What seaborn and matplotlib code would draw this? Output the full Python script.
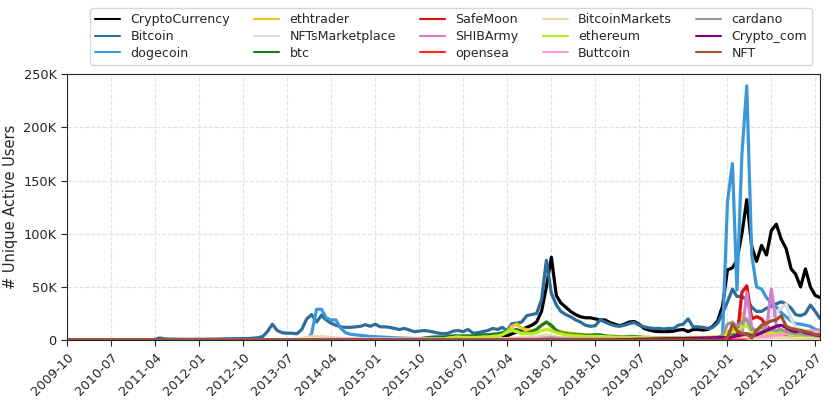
import pandas as pd
import seaborn as sns
import matplotlib.pyplot as plt
from matplotlib.ticker import FuncFormatter

# monthly unique active users (thousands), from the month each subreddit shows up
months = pd.period_range('2009-10', '2022-08', freq='M').to_timestamp()

cryptocurrency_start = '2013-12'
cryptocurrency = [0.3, 0.5, 0.6, 0.6, 0.5, 0.5, 0.5, 0.4, 0.4, 0.4,
                  0.4, 0.4, 0.4, 0.5, 0.5, 0.5, 0.5, 0.5, 0.5, 0.6,
                  0.6, 0.6, 0.7, 0.7, 0.8, 0.9, 1.0, 1.0, 1.1, 1.2,
                  1.3, 1.4, 1.5, 1.6, 1.8, 2.0, 2.2, 2.5, 2.8, 3.2,
                  4, 6, 8, 10, 12, 14, 17, 27, 50, 78,
                  42, 35, 31, 27, 24, 22, 21, 21, 20, 19,
                  19, 16.5, 15, 13.5, 15, 17, 17.5, 15, 11, 9.5,
                  8.5, 8, 8, 8, 8.5, 9.5, 10, 8, 10, 10,
                  9.5, 10, 13, 18, 32, 66, 68, 75, 100, 132,
                  88, 74, 89, 80, 103, 109, 95, 86, 67, 62,
                  50, 67, 50, 42, 40]

bitcoin_start = '2011-04'
bitcoin = [0.8, 2.0, 1.2, 1.0, 0.9, 0.9, 0.8, 0.8, 0.8, 0.9,
           0.9, 0.9, 1.0, 1.0, 1.1, 1.2, 1.3, 1.3, 1.4, 1.5,
           1.8, 2.2, 3.5, 8, 15, 9, 7, 6.5, 6.5, 6,
           10, 20, 24, 17, 23.5, 19, 16, 14, 12.5, 12,
           12, 12.5, 13, 14.5, 13, 15, 12.5, 12.5, 12, 11,
           10, 11, 9.5, 8, 8.5, 9, 8.5, 7.5, 6.5, 6,
           6.5, 8.5, 9, 8, 10, 6.5, 7, 8, 9, 11,
           10, 12, 9, 15.5, 16, 17, 23, 24, 25, 38,
           75, 44, 33, 27, 24, 22, 19, 17, 14, 13,
           13.5, 19, 17, 15, 13.5, 13, 14, 15.5, 16.5, 14,
           12.5, 11.5, 11, 11, 10.5, 11, 11, 14, 15, 20,
           12.5, 12.5, 12, 11, 12, 16, 25, 36, 48, 41,
           41, 38, 31, 27, 27, 30, 32, 34, 36, 34,
           30, 24, 23, 25, 33, 27, 20]

dogecoin_start = '2013-11'
dogecoin = [0.5, 6, 29, 29, 21, 19, 19, 11, 7, 5.5,
            5, 4.5, 4, 3.5, 3.2, 3, 2.8, 2.5, 2.2, 2,
            1.8, 1.6, 1.5, 1.4, 1.3, 1.2, 1.2, 1.1, 1.1, 1.0,
            1.0, 1.0, 1.0, 1.0, 1.0, 1.0, 1.0, 1.0, 1.0, 1.0,
            1.1, 1.2, 1.3, 1.5, 1.6, 1.8, 2, 2.2, 2.8, 3.5,
            3.5, 2.5, 2, 1.8, 1.6, 1.5, 1.4, 1.3, 1.3, 1.2,
            1.2, 1.2, 1.1, 1.1, 1.1, 1.2, 1.3, 1.2, 1.1, 1.0,
            1.0, 1.0, 1.0, 1.0, 1.0, 1.0, 1.1, 1.2, 1.3, 1.4,
            1.5, 1.8, 2.0, 2.2, 2.5, 3, 130, 166, 47, 175,
            239, 80, 50, 48, 40, 35, 31, 26, 22, 18,
            15.5, 15, 14, 13, 10, 9]

ethtrader_start = '2016-06'
ethtrader = [1, 1.5, 2, 2, 2.5, 2.5, 3, 3.5, 4, 5,
             8, 13, 15, 11, 10, 9, 10, 14, 17, 12,
             9, 8, 7, 6.5, 6, 5.5, 5, 5, 4.5, 4.5,
             4, 3.5, 3.5, 3, 3, 3, 3, 2.8, 2.6, 2.5,
             2.4, 2.3, 2.2, 2.2, 2.2, 2.3, 2.4, 2.4, 2.5, 2.5,
             2.5, 2.6, 2.8, 3, 3.5, 8, 10, 12, 25, 18,
             9, 7, 8, 6, 6, 5, 5, 4.5, 4, 4,
             3.5, 3.5, 3, 3, 3]

nfts_marketplace_start = '2021-04'
nfts_marketplace = [0.5, 1, 1.5, 2, 8, 18, 22, 26, 30, 34,
                    20, 12, 10, 9, 8, 7, 6]

btc_start = '2015-10'
btc = [1, 2, 2.5, 3, 3, 3, 3.5, 4, 4, 4,
       4, 4, 4.5, 5, 5, 5.5, 6, 7, 8, 9,
       10, 7, 6.5, 8, 10, 14, 17, 14, 9, 7,
       6, 5.5, 5, 5, 4.5, 4.5, 5, 5, 4, 3.5,
       3.5, 3, 3, 3.5, 3.5, 3, 2.5, 2.5, 2.2, 2.2,
       2, 2, 2, 2.2, 2.4, 2.2, 2, 2, 2, 2,
       2.2, 2.5, 3, 4, 5, 5, 6, 6, 4, 3.5,
       3.5, 3, 3, 3, 3, 2.8, 2.5, 2.5, 2.3, 2.2,
       2.2, 2, 2]

safemoon_start = '2021-03'
safemoon = [1, 45, 51, 20, 22, 20, 13, 10, 8, 6,
            5, 4, 4, 3.5, 3, 3, 2.5, 2.5]

shibarmy_start = '2021-04'
shibarmy = [4, 45, 12, 8, 6, 10, 48, 14, 9, 8,
            7, 6, 6, 5, 5, 4, 4]

opensea_start = '2021-02'
opensea = [0.5, 1, 1.5, 2, 3, 5, 8, 9, 7, 7,
           8, 9, 7, 5, 4, 3.5, 3, 2.5, 2]

bitcoinmarkets_start = '2013-08'
bitcoinmarkets = [0.5, 1, 1.5, 2.5, 3.5, 3, 3.5, 3, 2.5, 2,
                  1.5, 1.5, 1.4, 1.3, 1.3, 1.2, 1.2, 1.3, 1.2, 1.1,
                  1.1, 1.0, 1.0, 1.0, 1.0, 0.9, 0.9, 0.9, 0.9, 0.9,
                  0.9, 0.9, 0.9, 0.9, 0.9, 0.9, 0.9, 0.9, 1.0, 1.0,
                  1.0, 1.1, 1.2, 1.3, 1.5, 1.8, 2, 2.2, 2.5, 2.8,
                  3.2, 4, 5, 4, 3, 2.5, 2.2, 2, 1.8, 1.7,
                  1.6, 1.5, 1.5, 1.8, 1.7, 1.5, 1.4, 1.3, 1.4, 1.5,
                  1.5, 1.4, 1.3, 1.2, 1.2, 1.1, 1.1, 1.1, 1.2, 1.3,
                  1.4, 1.3, 1.3, 1.3, 1.3, 1.3, 1.4, 1.6, 2, 3,
                  3.5, 3, 3, 3, 2.5, 2.2, 2.2, 2.3, 2.4, 2.4,
                  2.4, 2.3, 2.1, 2, 1.9, 1.8, 1.8, 1.7, 1.6]

ethereum_start = '2016-03'
ethereum = [1, 2, 2.5, 3, 2.5, 2.5, 2.5, 2.5, 3, 3,
            3.5, 4, 5, 8, 9, 8, 6, 6, 6, 7,
            9, 10, 9, 7, 6, 5, 4.5, 4, 4, 3.5,
            3.5, 3.5, 3.5, 3.2, 3, 2.8, 2.7, 2.7, 2.8, 2.8,
            2.7, 2.5, 2.4, 2.3, 2.2, 2.2, 2.2, 2.3, 2.4, 2.4,
            2.4, 2.5, 2.5, 2.5, 2.6, 2.8, 3, 3, 6, 8,
            9, 12, 14, 7, 6, 8, 7, 7, 7, 8,
            6, 5, 5, 4.5, 4.5, 4, 4, 4]

buttcoin_start = '2013-12'
buttcoin = [0.3, 0.6, 0.8, 0.9, 0.9, 0.8, 0.8, 0.8, 0.8, 0.8,
            0.8, 0.8, 0.8, 0.8, 0.8, 0.7, 0.7, 0.7, 0.7, 0.7,
            0.7, 0.7, 0.7, 0.7, 0.7, 0.7, 0.7, 0.7, 0.7, 0.7,
            0.7, 0.7, 0.7, 0.7, 0.7, 0.7, 0.7, 0.8, 0.8, 0.9,
            1.0, 1.1, 1.2, 1.3, 1.4, 1.5, 1.7, 2.0, 2.5, 2.5,
            2.0, 1.6, 1.4, 1.3, 1.2, 1.1, 1.0, 1.0, 1.0, 1.1,
            1.0, 1.0, 0.9, 0.9, 0.9, 1.0, 1.0, 0.9, 0.9, 0.8,
            0.8, 0.8, 0.8, 0.8, 0.8, 0.9, 0.9, 0.9, 0.9, 0.9,
            0.9, 1.0, 1.0, 1.2, 1.5, 2.5, 3, 3, 4, 5,
            4, 3.5, 3.5, 3.5, 4, 4.5, 5, 6, 6.5, 7,
            7.5, 8, 9, 8.5, 8]

cardano_start = '2017-10'
cardano = [0.5, 1, 1.5, 2, 1.5, 1.2, 1, 0.9, 0.8, 0.8,
           0.7, 0.7, 0.7, 0.7, 0.7, 0.6, 0.6, 0.6, 0.6, 0.6,
           0.6, 0.6, 0.6, 0.6, 0.6, 0.6, 0.6, 0.6, 0.6, 0.7,
           0.8, 0.8, 0.9, 1.0, 1.2, 1.5, 1.8, 2, 5, 15,
           17, 13, 17, 20, 10, 9, 12, 10, 10, 9,
           10, 8, 7, 6, 6, 5, 5, 4, 4]

crypto_com_start = '2019-02'
crypto_com = [0.2, 0.3, 0.5, 0.5, 0.7, 0.8, 0.8, 1.0, 1.1, 1.2,
              1.3, 1.3, 1.5, 1.6, 1.5, 1.7, 1.8, 1.8, 2.0, 2.1,
              2.2, 2.4, 2.5, 2, 3, 4, 5, 6, 4, 5,
              7, 9, 11, 13, 14, 12, 9, 8, 9, 7,
              6, 5, 4]

nft_start = '2021-01'
nft = [2, 15, 9, 6, 6, 2, 9, 14, 16, 18,
       19, 23, 13, 11, 10, 9, 8, 7, 5, 5]

names = ['CryptoCurrency', 'Bitcoin', 'dogecoin', 'ethtrader', 'NFTsMarketplace',
         'btc', 'SafeMoon', 'SHIBArmy', 'opensea', 'BitcoinMarkets',
         'ethereum', 'Buttcoin', 'cardano', 'Crypto_com', 'NFT']
colors = ['#000000', '#2c6d9c', '#3b97d9', '#f5c21b', '#dedede',
          '#1f7a1f', '#e00c0c', '#d57fd0', '#ff2424', '#e6dcaa',
          '#b5ee22', '#ff9bcd', '#999999', '#800080', '#a0522d']

starts = [cryptocurrency_start, bitcoin_start, dogecoin_start, ethtrader_start,
          nfts_marketplace_start, btc_start, safemoon_start, shibarmy_start,
          opensea_start, bitcoinmarkets_start, ethereum_start, buttcoin_start,
          cardano_start, crypto_com_start, nft_start]
values = [cryptocurrency, bitcoin, dogecoin, ethtrader, nfts_marketplace, btc,
          safemoon, shibarmy, opensea, bitcoinmarkets, ethereum, buttcoin,
          cardano, crypto_com, nft]

frames = []
for name, start, vals in zip(names, starts, values):
    idx = pd.period_range(start, periods=len(vals), freq='M').to_timestamp()
    s = pd.Series(vals, index=idx).reindex(months, fill_value=0) * 1000
    frames.append(pd.DataFrame({'month': months, 'users': s.values, 'subreddit': name}))
df = pd.concat(frames, ignore_index=True)

sns.set_style('ticks')
plt.rcParams['font.family'] = ['DejaVu Sans']

fig = plt.figure(figsize=(8.31, 4.03), dpi=100)
ax = fig.add_axes([0.0806, 0.156, 0.9064, 0.66])

sns.lineplot(data=df, x='month', y='users', hue='subreddit', hue_order=names,
             palette=dict(zip(names, colors)), linewidth=2.3, ax=ax, legend=False)

ax.set_xlim(months[0], months[-1])
ax.set_ylim(0, 250000)
ax.set_yticks([0, 50000, 100000, 150000, 200000, 250000])
ax.yaxis.set_major_formatter(FuncFormatter(lambda v, p: '0' if v == 0 else f'{int(v / 1000)}K'))
ticks = months[::9]
ax.set_xticks(ticks)
ax.set_xticklabels([t.strftime('%Y-%m') for t in ticks], rotation=45, ha='right',
                   rotation_mode='anchor')
ax.tick_params(labelsize=9.3, length=4)
ax.set_xlabel('')
ax.set_ylabel('# Unique Active Users', fontsize=10.5)
ax.grid(True, ls='--', color='#e2e2e2', lw=0.8)
ax.set_axisbelow(True)

handles = [plt.Line2D([], [], color=c, lw=1.5) for c in colors]
ax.legend(handles, names, ncol=5, loc='lower center', bbox_to_anchor=(0.51, 1.035),
          fontsize=9.1, frameon=True, edgecolor='#cccccc', columnspacing=1.9,
          handlelength=2.0, borderaxespad=0, labelspacing=0.3)

fig.savefig('out.png', dpi=100)
